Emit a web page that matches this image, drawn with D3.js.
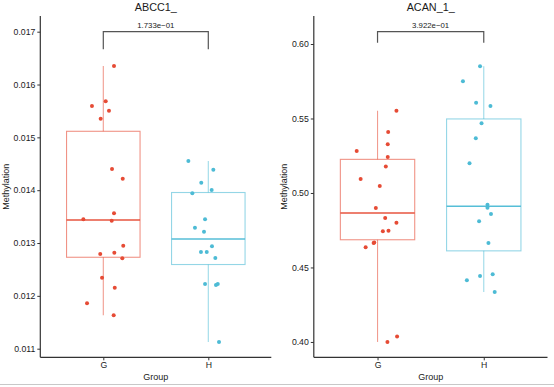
<!DOCTYPE html>
<html><head><meta charset="utf-8">
<script src="https://cdn.jsdelivr.net/npm/d3@7"></script>
<style>body{margin:0;background:#fff}svg{display:block}text{font-family:"Liberation Sans",Arial,sans-serif}</style>
</head><body>
<script>
// ---- data ----
const groups = ["G", "H"];
const titles = ["ABCC1_", "ACAN_1_"];
const pLabels = ["1.733e\u221201", "3.922e\u221201"];
const yTicksA = [0.011, 0.012, 0.013, 0.014, 0.015, 0.016, 0.017];
const yTicksB = [0.40, 0.45, 0.50, 0.55, 0.60];
const abccG = [0.01635,0.015592,0.015683,0.015505,0.015353,0.0144,0.014218,0.01345,0.013563,0.013422,0.01295,0.012792,0.012817,0.01271,0.012344,0.012154,0.011858,0.011632];
const abccGJit = [0.102,-0.108,0.023,0.054,-0.025,0.083,0.185,-0.19,0.102,0.08,0.19,-0.029,0.105,0.181,-0.012,0.109,-0.155,0.099];
const abccH = [0.014553,0.014389,0.014142,0.014004,0.01394,0.013449,0.01329,0.013214,0.012938,0.01283,0.01283,0.012716,0.012224,0.012205,0.012224,0.011126];
const abccHJit = [-0.19,0.048,-0.067,0.032,-0.152,-0.031,-0.127,-0.041,0.035,-0.07,-0.015,0.067,-0.031,0.073,0.09,0.102];
const acanG = [0.5552,0.5409,0.5327,0.5282,0.5242,0.5177,0.5094,0.5047,0.49,0.4832,0.4801,0.4743,0.4747,0.4667,0.4665,0.4636,0.40,0.4036];
const acanGJit = [0.178,0.1,0.096,-0.196,0.096,0.078,-0.159,0.021,-0.016,0.072,0.178,0.05,0.103,-0.031,-0.037,-0.112,0.093,0.184];
const acanH = [0.585,0.575,0.5606,0.5584,0.5468,0.5367,0.5199,0.4921,0.4901,0.4859,0.481,0.4664,0.4414,0.4443,0.4454,0.4336];
const acanHJit = [-0.035,-0.196,-0.072,0.063,-0.021,-0.075,-0.134,0.035,0.035,0.068,-0.044,0.044,-0.159,-0.035,0.084,0.103];
const colors = ["#E64B35", "#4DBBD5"];

const W = 554, H = 387;
const svg = d3.select("body").append("svg").attr("width", W).attr("height", H);

const panels = [
  {title: titles[0], p: pLabels[0], ticks: yTicksA, fmt: d3.format(".3f"),
   data: [abccG, abccH], jit: [abccGJit, abccHJit],
   x0: 40.3, x1: 271.3, yDom: [0.010837, 0.017297], bracketY: 0.017, bracketDrop: 17.6, yTitleX: 6},
  {title: titles[1], p: pLabels[1], ticks: yTicksB, fmt: d3.format(".2f"),
   data: [acanG, acanH], jit: [acanGJit, acanHJit],
   x0: 313.8, x1: 547.5, yDom: [0.3897, 0.6188], bracketY: 0.6083, bracketDrop: 11, yTitleX: 283.5}
];

const plotTop = 16, plotBottom = 357.3;

panels.forEach(pn => {
  const g = svg.append("g");
  const x = d3.scaleLinear().domain([0.4, 2.6]).range([pn.x0, pn.x1]);
  const y = d3.scaleLinear().domain(pn.yDom).range([plotBottom, plotTop]);

  // boxes
  pn.data.forEach((vals, i) => {
    const s = vals.slice().sort(d3.ascending);
    const q1 = d3.quantile(s, 0.25), med = d3.quantile(s, 0.5), q3 = d3.quantile(s, 0.75);
    const iqr = q3 - q1;
    const lo = d3.min(s.filter(v => v >= q1 - 1.5 * iqr));
    const hi = d3.max(s.filter(v => v <= q3 + 1.5 * iqr));
    const cx = i + 1, hw = 0.35, c = colors[i];
    const bg = g.append("g").attr("stroke", c).attr("fill", "none");
    bg.append("line").attr("x1", x(cx)).attr("x2", x(cx)).attr("y1", y(q3)).attr("y2", y(hi))
      .attr("stroke-width", 1.1).attr("stroke-opacity", 0.55);
    bg.append("line").attr("x1", x(cx)).attr("x2", x(cx)).attr("y1", y(q1)).attr("y2", y(lo))
      .attr("stroke-width", 1.1).attr("stroke-opacity", 0.55);
    bg.append("rect").attr("x", x(cx - hw)).attr("y", y(q3)).attr("width", x(cx + hw) - x(cx - hw))
      .attr("height", y(q1) - y(q3)).attr("stroke-width", 1.1).attr("stroke-opacity", 0.6);
    bg.append("line").attr("x1", x(cx - hw)).attr("x2", x(cx + hw)).attr("y1", y(med)).attr("y2", y(med))
      .attr("stroke-width", 1.6).attr("stroke-opacity", 0.95);
    // points
    g.append("g").selectAll("circle").data(vals).join("circle")
      .attr("cx", (d, k) => x(cx + pn.jit[i][k])).attr("cy", d => y(d))
      .attr("r", 2).attr("fill", c);
  });

  // axes
  const ya = g.append("g").attr("transform", `translate(${pn.x0},0)`)
    .call(d3.axisLeft(y).tickValues(pn.ticks).tickFormat(pn.fmt).tickSize(3).tickPadding(2));
  ya.select(".domain").attr("d", `M0,${plotBottom}V${plotTop}`);
  const xa = g.append("g").attr("transform", `translate(0,${plotBottom})`)
    .call(d3.axisBottom(x).tickValues([1, 2]).tickFormat((d, k) => groups[k]).tickSize(3).tickPadding(2));
  xa.select(".domain").attr("d", `M${pn.x0},0H${pn.x1}`);
  [ya, xa].forEach(a => {
    a.select(".domain").attr("stroke", "#333").attr("stroke-width", 1.2);
    a.selectAll(".tick line").attr("stroke", "#333").attr("stroke-width", 1);
    a.selectAll(".tick text").attr("fill", "#1a1a1a").style("font-size", "8.7px");
  });

  // titles
  g.append("text").attr("x", (pn.x0 + pn.x1) / 2).attr("y", 11).attr("text-anchor", "middle")
    .style("font-size", "10.8px").attr("fill", "#1a1a1a").text(pn.title);
  g.append("text").attr("x", (pn.x0 + pn.x1) / 2).attr("y", 380).attr("text-anchor", "middle")
    .style("font-size", "9px").attr("fill", "#1a1a1a").text("Group");
  g.append("text").attr("transform", `translate(${pn.yTitleX},${(plotTop + plotBottom) / 2}) rotate(-90)`)
    .attr("text-anchor", "middle").attr("dy", "0.35em")
    .style("font-size", "9px").attr("fill", "#1a1a1a").text("Methylation");

  // significance bracket
  const by = y(pn.bracketY);
  g.append("path").attr("fill", "none").attr("stroke", "#555").attr("stroke-width", 1.2)
    .attr("d", `M${x(1)},${by + pn.bracketDrop}V${by}H${x(2)}V${by + pn.bracketDrop}`);
  g.append("text").attr("x", (x(1) + x(2)) / 2).attr("y", by - 3.5).attr("text-anchor", "middle")
    .style("font-size", "7.8px").attr("fill", "#1a1a1a").text(pn.p);
});

// bottom frame line
svg.append("line").attr("x1", 0).attr("x2", W).attr("y1", 384.5).attr("y2", 384.5)
  .attr("stroke", "#c8c8c8").attr("stroke-width", 1);
</script>
</body></html>
